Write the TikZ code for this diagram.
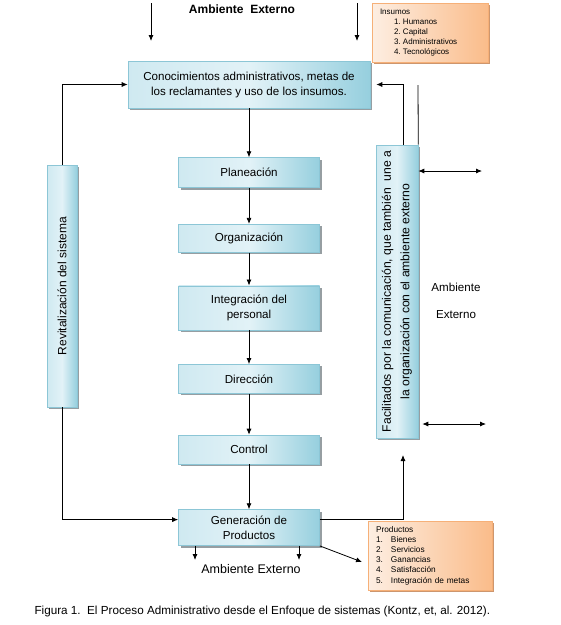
\documentclass[tikz,border=0pt]{standalone}
\usepackage{fontspec}
\setmainfont{Liberation Sans}
\usetikzlibrary{arrows.meta, positioning, shadows}

\definecolor{boxdark}{RGB}{150,207,222}
\definecolor{boxlight}{RGB}{226,242,247}
\definecolor{boxline}{RGB}{140,198,214}
\definecolor{boxshadow}{RGB}{150,158,162}
\definecolor{orangedark}{RGB}{250,188,138}
\definecolor{orangelight}{RGB}{253,238,226}
\definecolor{orangeline}{RGB}{246,176,120}
\definecolor{orangeshadow}{RGB}{205,150,110}

\begin{document}
\begin{tikzpicture}[
    x=1pt, y=-1pt, >={Latex[length=6pt,width=5pt]},
    font=\fontsize{11.6}{15}\selectfont,
    process/.style = {rectangle, draw=boxline, line width=0.6pt, left color=boxlight!75!boxdark, right color=boxdark, middle color=boxlight, drop shadow={shadow xshift=2pt, shadow yshift=-2pt, fill=boxshadow, opacity=1}, align=center, inner sep=2pt, minimum width=141pt},
    sidebox/.style = {process, rotate=90},
    listbox/.style = {rectangle, draw=orangeline, line width=0.6pt, left color=orangelight, right color=orangedark, drop shadow={shadow xshift=2pt, shadow yshift=-2pt, fill=orangeshadow, opacity=1}, align=left, inner xsep=8pt, font=\fontsize{8}{10}\selectfont},
    arrow/.style = {draw, ->, line width=0.8pt}
]
    \fill[white] (0,0) rectangle (561,625);
    \useasboundingbox (0,0) rectangle (561,625);

    \node [process, minimum width=242pt, minimum height=47pt] (know) at (249,84.5) {Conocimientos administrativos, metas de\\los reclamantes y uso de los insumos.};
    \node [process, minimum height=30pt, below=49pt of know] (plan) {Planeación};
    \node [process, minimum height=28pt, below=36pt of plan] (org) {Organización};
    \node [process, minimum height=44pt, below=33pt of org] (integ) {Integración del\\personal};
    \node [process, minimum height=29pt, below=34pt of integ] (dir) {Dirección};
    \node [process, minimum height=29pt, below=41pt of dir] (ctrl) {Control};
    \node [process, minimum height=36pt, below=45pt of ctrl] (gen) {Generación de\\Productos};

    \node [sidebox, minimum width=242pt, minimum height=30pt, font=\fontsize{12}{15}\selectfont] (revit) at (62,286) {Revitalización del sistema};
    \node [sidebox, minimum width=293pt, minimum height=42pt, inner xsep=1pt, font=\fontsize{12.2}{18.5}\selectfont] (facil) at (397,291.5) {Facilitados por la comunicación, que también\ \ une a\\la organización con el ambiente externo};

    \node [listbox, text width=100pt, minimum height=59pt] (insumos) at (430,32.5) {Insumos\\
        \hspace*{14pt}\makebox[9pt][l]{1.}Humanos\\
        \hspace*{14pt}\makebox[9pt][l]{2.}Capital\\
        \hspace*{14pt}\makebox[9pt][l]{3.}Administrativos\\
        \hspace*{14pt}\makebox[9pt][l]{4.}Tecnológicos};
    \node [listbox, text width=108pt, minimum height=69pt, font=\fontsize{8.3}{10.2}\selectfont] (productos) at (430,555.5) {Productos\\
        \makebox[15pt][l]{1.}Bienes\\
        \makebox[15pt][l]{2.}Servicios\\
        \makebox[15pt][l]{3.}Ganancias\\
        \makebox[15pt][l]{4.}Satisfacción\\
        \makebox[15pt][l]{5.}Integración de metas};

    \node [font=\fontsize{12}{14}\selectfont\bfseries] (ambtop) at (242,9) {Ambiente\ \ Externo};
    \node [align=center, font=\fontsize{11.6}{27}\selectfont] (ambright) at (456,300.5) {Ambiente\\Externo};
    \node [font=\fontsize{12.5}{15}\selectfont] (ambbottom) at (251,569) {Ambiente Externo};
    \node [anchor=west, font=\fontsize{11.7}{14}\selectfont] (caption) at (31,611) {Figura 1.\ \ El Proceso Administrativo desde el Enfoque de sistemas (Kontz, et, al. 2012).};

    \coordinate (intop1) at (151,3);
    \coordinate (inend1) at (151,41);
    \coordinate (intop2) at (357,3);
    \coordinate (inend2) at (357,41);
    \coordinate (outer) at (418,85);
    \coordinate (ext1) at (482,171);
    \coordinate (ext2) at (486,424);
    \coordinate (facilin) at (403,455);
    \coordinate (out1) at (195,560);
    \coordinate (out2) at (299,560);
    \coordinate (prodin) at (362,562);

    \draw [arrow] (intop1) -- (inend1);
    \draw [arrow] (intop2) -- (inend2);
    \draw [arrow] (know) -- (plan);
    \draw [arrow] (plan) -- (org);
    \draw [arrow] (org) -- (integ);
    \draw [arrow] (integ) -- (dir);
    \draw [arrow] (dir) -- (ctrl);
    \draw [arrow] (ctrl) -- (gen);
    \draw [arrow] (revit.east) |- (know.west);
    \draw [arrow] (revit.west) |- ([yshift=8pt]gen.west);
    \draw [arrow, shorten >=6pt] ([xshift=6pt]facil.east) |- (know.east);
    \draw [line width=0.8pt] (facil.south east) -- (outer);
    \draw [arrow, <->] (facil.south |- ext1) -- (ext1);
    \draw [arrow, <->] ([xshift=4pt]facil.south |- ext2) -- (ext2);
    \draw [arrow] ([yshift=8pt]gen.east) -| (facilin);
    \draw [arrow] (gen.south -| out1) -- (out1);
    \draw [arrow] (gen.south -| out2) -- (out2);
    \draw [arrow] (gen.south east) -- (prodin);
\end{tikzpicture}
\end{document}
